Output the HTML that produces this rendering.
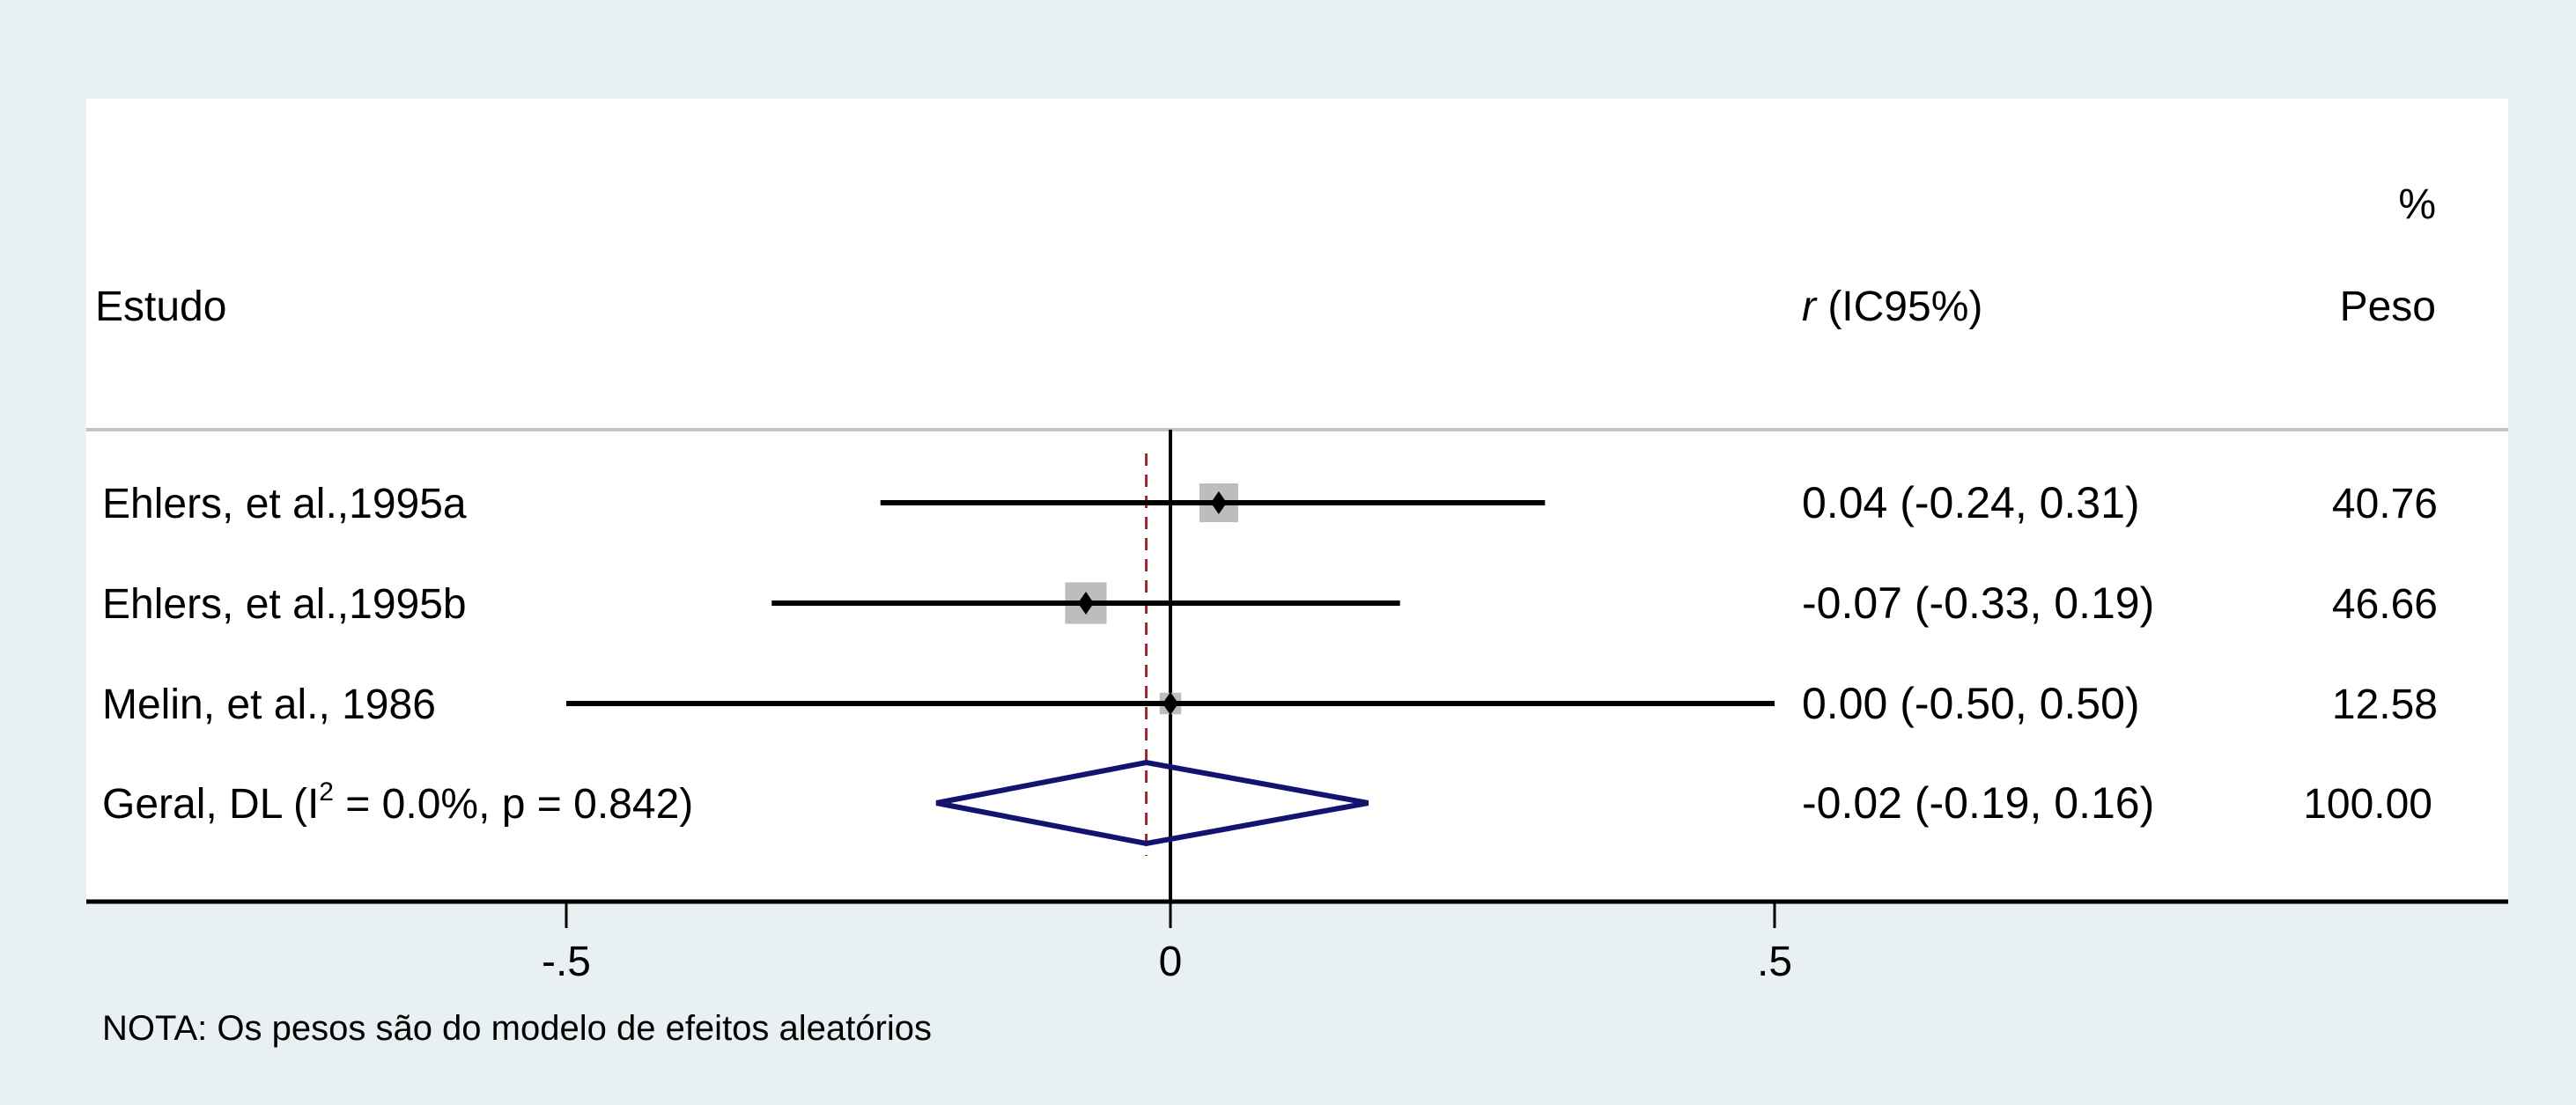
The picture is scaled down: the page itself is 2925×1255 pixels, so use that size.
<!DOCTYPE html>
<html><head><meta charset="utf-8">
<style>
html,body{margin:0;padding:0;background:#e8f0f2;}
svg{display:block;font-family:"Liberation Sans",Arial,sans-serif;}
</style></head>
<body>
<svg id="chart" width="2925" height="1255" viewBox="0 0 2925 1255" xmlns="http://www.w3.org/2000/svg">
<rect x="0" y="0" width="2925" height="1255" fill="#e8f0f2"/>
<rect x="98" y="112" width="2750" height="912" fill="#ffffff"/>
<line x1="98" y1="488" x2="2848" y2="488" stroke="#c4c4c4" stroke-width="4"/>
<text x="108" y="364" font-size="48">Estudo</text>
<text x="2046" y="364" font-size="48"><tspan font-style="italic">r</tspan> (IC95%)</text>
<text x="2766" y="248" font-size="48" text-anchor="end">%</text>
<text x="2766" y="364" font-size="48" text-anchor="end">Peso</text>
<g id="marks"></g>
<text x="116" y="1181" font-size="40">NOTA: Os pesos são do modelo de efeitos aleatórios</text>
</svg>
<script>
const studies = ["Ehlers, et al.,1995a", "Ehlers, et al.,1995b", "Melin, et al., 1986"];
const estimates = [0.04, -0.07, 0.00];
const lowers = [-0.24, -0.33, -0.50];
const uppers = [0.31, 0.19, 0.50];
const weights = [40.76, 46.66, 12.58];
const estLabels = ["0.04 (-0.24, 0.31)", "-0.07 (-0.33, 0.19)", "0.00 (-0.50, 0.50)"];
const weightLabels = ["40.76", "46.66", "12.58"];
const pooled = [-0.02, -0.19, 0.16];
const pooledLabel = "-0.02 (-0.19, 0.16)";
const pooledWeight = "100.00";
const xTicks = [-0.5, 0, 0.5];
const xTickLabels = ["-.5", "0", ".5"];

const NS = "http://www.w3.org/2000/svg";
const g = document.getElementById("marks");
const x = v => 1329 + v * 1372;
const rowY = i => 571 + i * 114;
const axisY = 1024;
function mk(tag, attrs, text) {
  const e = document.createElementNS(NS, tag);
  for (const k in attrs) e.setAttribute(k, attrs[k]);
  if (text !== undefined) e.textContent = text;
  g.appendChild(e);
  return e;
}
let z = mk("line", {x1: x(0), y1: 488, x2: x(0), y2: axisY, stroke: "#000", "stroke-width": 4});


let d = mk("line", {x1: x(pooled[0]), y1: 515, x2: x(pooled[0]), y2: 972, stroke: "#a0282c", "stroke-width": 3, "stroke-dasharray": "14,10"});



studies.forEach((s, i) => {
  const y = rowY(i);
  const sz = 6.9 * Math.sqrt(weights[i]);
  const sq = mk("rect", {x: x(estimates[i]) - sz / 2, y: y - sz / 2, width: sz, height: sz, fill: "#bdbdbd"});
  
  
  const ci = mk("line", {x1: x(lowers[i]), y1: y, x2: x(uppers[i]), y2: y, stroke: "#000", "stroke-width": 6});
  
  
  const cx = x(estimates[i]);
  const pt = mk("polygon", {points: `${cx},${y-13} ${cx+9},${y} ${cx},${y+13} ${cx-9},${y}`, fill: "#000"});
  
  
  const lb = mk("text", {x: 116, y: y + 17, "font-size": 48}, s);
  
  
  const el = mk("text", {x: 2046, y: y + 17, "font-size": 50}, estLabels[i]);
  
  
  const wl = mk("text", {x: 2768, y: y + 17, "font-size": 48, "text-anchor": "end"}, weightLabels[i]);
  
  
});

const py = rowY(3) - 1;
const dm = mk("polygon", {points: `${x(pooled[1]) - 5},${py} ${x(pooled[0])},${py-46} ${x(pooled[2]) + 5},${py} ${x(pooled[0])},${py+46}`, fill: "none", stroke: "#131370", "stroke-width": 6});


const gl = mk("text", {x: 116, y: py + 17, "font-size": 48});


gl.innerHTML = 'Geral, DL (I<tspan font-size="30" dy="-20">2</tspan><tspan dy="20"> = 0.0%, p = 0.842)</tspan>';
const pl = mk("text", {x: 2046, y: py + 17, "font-size": 50}, pooledLabel);


const pw = mk("text", {x: 2762, y: py + 17, "font-size": 48, "text-anchor": "end"}, pooledWeight);



const ax = mk("line", {x1: 98, y1: axisY, x2: 2848, y2: axisY, stroke: "#000", "stroke-width": 5});


xTicks.forEach((t, i) => {
  const tk = mk("line", {x1: x(t), y1: axisY, x2: x(t), y2: axisY + 30, stroke: "#000", "stroke-width": 3});
  
  
  const tl = mk("text", {x: x(t), y: axisY + 84, "font-size": 48, "text-anchor": "middle"}, xTickLabels[i]);
  
  
});
</script>
</body></html>
